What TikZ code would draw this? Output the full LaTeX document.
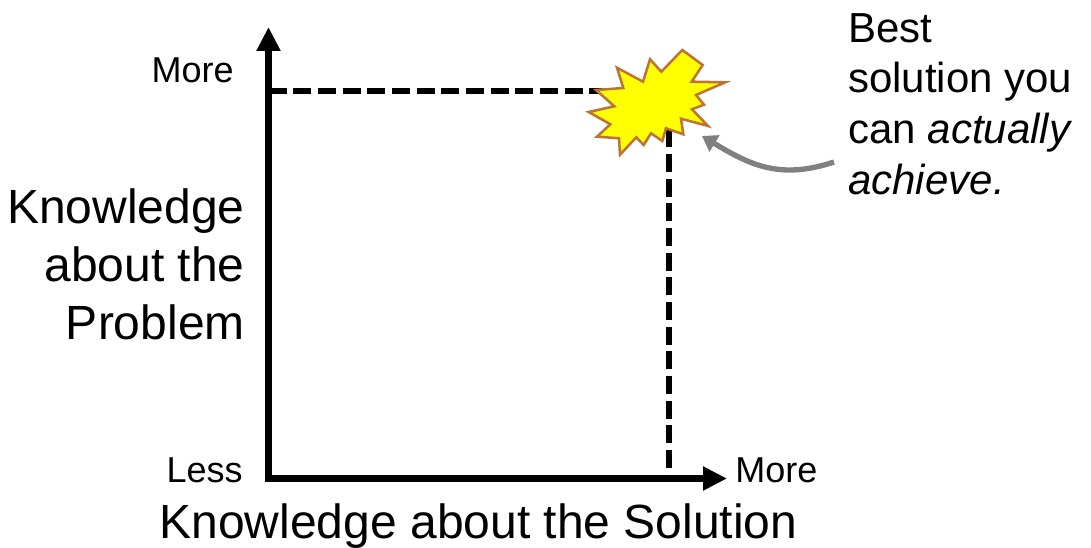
\documentclass[tikz,border=0pt]{standalone}
\usepackage{fontspec}
\setmainfont{Liberation Sans}
\usetikzlibrary{arrows.meta}
\definecolor{ink}      {HTML}{000000}
\definecolor{burst}    {HTML}{FFFF00}
\definecolor{burstline}{HTML}{BC7434}
\definecolor{pointer}  {HTML}{808080}
\tikzset{
  % --- nodes
  lbl/.style    = {inner sep=0pt, text=ink, font=\fontsize{27}{32}\selectfont},
  axistxt/.style= {inner sep=0pt, text=ink, align=right, font=\fontsize{36}{43.5}\selectfont},
  note/.style   = {inner sep=0pt, text=ink, align=left, font=\fontsize{31.5}{38}\selectfont},
  % --- edges
  axisline/.style = {-{Triangle[length=18pt,width=17pt]}, line width=5.6pt, draw=ink, line cap=rect},
  guide/.style    = {line width=4.2pt, draw=ink, dash pattern=on 13.5pt off 5pt},
  callout/.style  = {-{Triangle[length=11pt,width=14pt]}, line width=4pt, draw=pointer},
  star/.style     = {fill=burst, draw=burstline, line width=1.9pt, line join=miter},
}
\begin{document}
\begin{tikzpicture}[x=0.75pt,y=-0.75pt]
  \useasboundingbox (0,0) rectangle (1091,548);

  \coordinate (origin) at (268.5,478.5);
  \coordinate (ytip) at (268.5,27);
  \coordinate (xtip) at (727,478.5);
  \coordinate (ymark) at (268.5,91);
  \coordinate (xmark) at (669,468);
  \coordinate (burstw) at (602,91);
  \coordinate (bursts) at (669,130);
  \coordinate (calloutend) at (702,136);
  \coordinate (calloutstart) at (834,162);

  \draw[axisline] (origin) -- (ytip);
  \draw[axisline] (origin) -- (xtip);
  \draw[guide] (ymark) -- (burstw);
  \draw[guide] (xmark) -- (bursts);

  \draw[star] (682.3,50) -- (702.7,65) -- (691.7,81.7) -- (725.3,82.3) -- (696,95)
    -- (704,104.7) -- (692,109.3) -- (708,126) -- (681,118.7) -- (683.3,134.3)
    -- (666,128.3) -- (662.3,141) -- (651,133.3) -- (643.7,145) -- (636.3,137.3)
    -- (620,154.7) -- (619,138.3) -- (597,136.7) -- (610.3,124.3) -- (588.7,112)
    -- (614.3,106.3) -- (596,90) -- (623.3,88) -- (617,67.7) -- (643,81.7)
    -- (650,59.3) -- (661.3,71.7) -- cycle;

  \draw[callout] (calloutstart) .. controls (780,180) and (750,165) .. (calloutend);

  \node[lbl, anchor=base east] (ymore) at (234,83) {More};
  \node[lbl, anchor=base east] (xless) at (243,482) {Less};
  \node[lbl, anchor=base west] (xmore) at (735,482) {More};
  \node[axistxt, anchor=east] (ytitle) at (245,264) {Knowledge\\about the\\Problem};
  \node[axistxt, anchor=base] (xtitle) at (478.5,538) {Knowledge about the Solution};
  \node[note, anchor=west] (bestnote) at (848,104)
    {Best\\solution you\\can \textit{actually}\\\textit{achieve.}};
\end{tikzpicture}
\end{document}
